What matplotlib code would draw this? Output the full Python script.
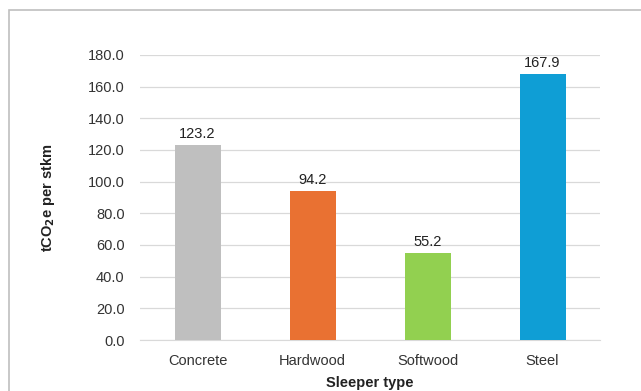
import matplotlib
matplotlib.use("Agg")
import matplotlib.pyplot as plt
from matplotlib.patches import Rectangle

categories = ["Concrete", "Hardwood", "Softwood", "Steel"]
values = [123.2, 94.2, 55.2, 167.9]
colors = ["#BFBFBF", "#E97132", "#92D050", "#0F9ED5"]
yticks = [0, 20, 40, 60, 80, 100, 120, 140, 160, 180]

plt.rcParams["font.family"] = ["Liberation Sans", "DejaVu Sans"]

fig = plt.figure(figsize=(6.41, 3.91), dpi=100)
ax = fig.add_axes([140 / 641, 1 - 340 / 391, 460 / 641, 285 / 391])

x = range(len(categories))
bars = ax.bar(x, values, width=0.4, color=colors, zorder=3)
for bar, v in zip(bars, values):
    ax.text(bar.get_x() + bar.get_width() / 2, v + 2.5, f"{v:.1f}",
            ha="center", va="bottom", fontsize=10.5, color="#222222")

ax.set_xlim(-0.5, len(categories) - 0.5)
ax.set_ylim(0, 180)
ax.set_yticks(yticks)
ax.set_yticklabels([f"{t:.1f}" for t in yticks])
ax.set_xticks(list(x))
ax.set_xticklabels(categories)
ax.tick_params(axis="both", length=0, labelsize=10.5, colors="#333333")
ax.tick_params(axis="y", pad=11)
ax.tick_params(axis="x", pad=10)
ax.grid(axis="y", color="#D9D9D9", linewidth=0.9, zorder=0)
for s in ["top", "right", "left"]:
    ax.spines[s].set_visible(False)
ax.spines["bottom"].set_color("#D9D9D9")

ax.set_ylabel(r"tCO$_\mathbf{2}$e per stkm", fontsize=10.5, fontweight="bold",
              color="#222222", labelpad=22)
ax.set_xlabel("Sleeper type", fontsize=10.5, fontweight="bold",
              color="#222222", labelpad=6)

# chart border (clipped at right and bottom in the original)
fig.patches.append(Rectangle((9 / 641, -0.1), 1.2, 0.1 + 1 - 10 / 391,
                             transform=fig.transFigure, fill=False,
                             edgecolor="#BFBFBF", linewidth=1.2))

fig.savefig("out.png", dpi=100)
